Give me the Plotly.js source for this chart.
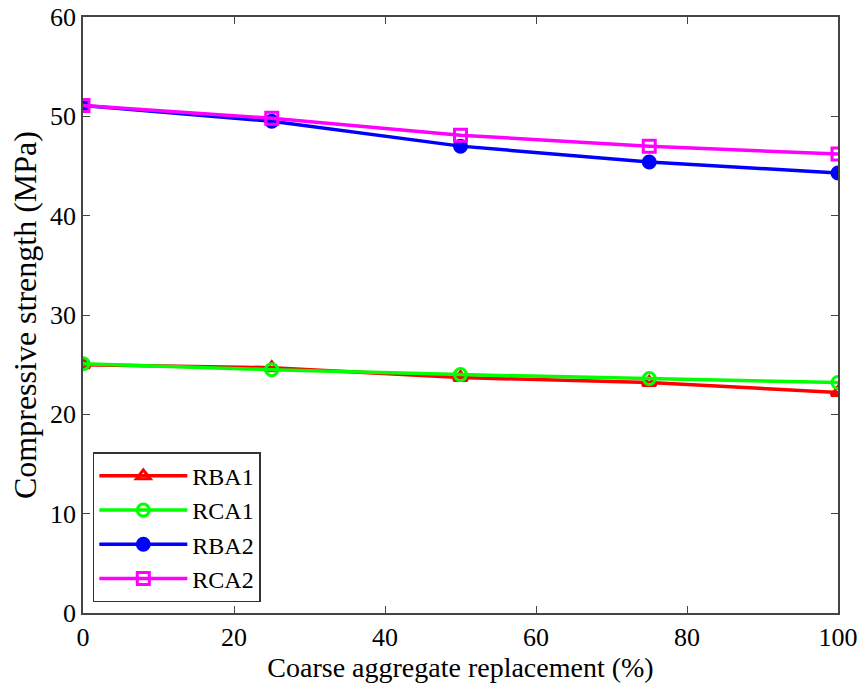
<!DOCTYPE html>
<html><head><meta charset="utf-8">
<script src="https://cdn.plot.ly/plotly-3.0.1.min.js"></script>
<style>body{margin:0;background:#fff}#c{width:864px;height:689px}</style>
</head><body><div id="c"></div>
<script>
const replacement = [0, 25, 50, 75, 100];
const RBA1 = [25.0, 24.7, 23.7, 23.2, 22.2];
const RCA1 = [25.1, 24.5, 24.0, 23.6, 23.2];
const RBA2 = [51.1, 49.5, 47.0, 45.4, 44.3];
const RCA2 = [51.1, 49.8, 48.1, 47.0, 46.2];
const names = ['RBA1', 'RCA1', 'RBA2', 'RCA2'];
const colors = ['#ff0000', '#00ff00', '#0000ff', '#ff00ff'];
const symbols = ['triangle-up-open', 'circle-open', 'circle', 'square-open'];
const series = [RBA1, RCA1, RBA2, RCA2];

const traces = series.map((ys, i) => ({
  x: replacement, y: ys, name: names[i], type: 'scatter', mode: 'lines+markers',
  line: {color: colors[i], width: 3.5},
  marker: {symbol: symbols[i], size: 12, color: colors[i], line: {color: colors[i], width: 3}}
}));

const fam = 'Liberation Serif, Times New Roman, serif';
const f = (s) => ({family: fam, size: s, color: '#000'});
const layout = {
  width: 864, height: 689,
  margin: {l: 83, r: 26, t: 17, b: 76},
  paper_bgcolor: '#fff', plot_bgcolor: '#fff',
  font: f(26),
  showlegend: true,
  legend: {x: 0.013, y: 0.018, xanchor: 'left', yanchor: 'bottom',
    bordercolor: '#333', borderwidth: 1.5, bgcolor: '#fff',
    font: f(24), tracegroupgap: 0, itemwidth: 88},
  xaxis: {range: [0, 100], tickvals: [0, 20, 40, 60, 80, 100], ticks: 'inside', ticklen: 7,
    tickcolor: '#444', showline: true, linecolor: '#444', linewidth: 1.5, mirror: 'ticks',
    showgrid: false, zeroline: false, tickfont: f(26),
    title: {text: 'Coarse aggregate replacement (%)', font: f(28), standoff: 6}},
  yaxis: {range: [0, 60], tickvals: [0, 10, 20, 30, 40, 50, 60], ticks: 'inside', ticklen: 7,
    tickcolor: '#444', showline: true, linecolor: '#444', linewidth: 1.5, mirror: 'ticks',
    showgrid: false, zeroline: false, tickfont: f(26),
    title: {text: 'Compressive strength (MPa)', font: f(32), standoff: 4}}
};
Plotly.newPlot('c', traces, layout, {displayModeBar: false});
</script></body></html>
